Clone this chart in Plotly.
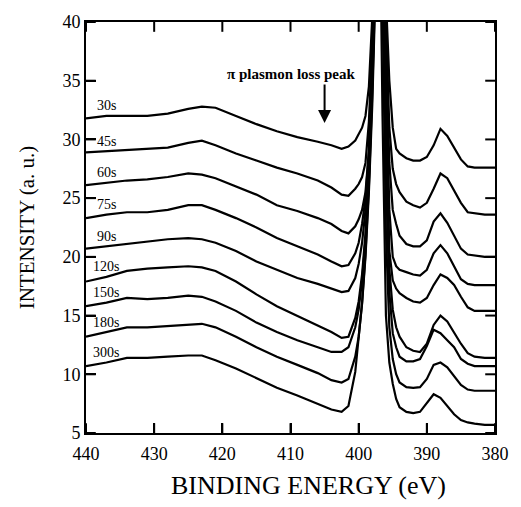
import plotly.graph_objects as go

energy = [440, 437, 434, 431, 428, 425, 423, 421, 418, 415, 412, 409, 406, 404,
          402.5, 401.5, 400.5, 400, 399.5, 399, 398.5, 398, 397.5, 397, 396.5, 396, 395.5, 395, 394.5, 394,
          393, 392, 391, 390, 389, 388, 387, 386, 385, 384, 383, 381.5, 380]

s30 = [31.8, 32.0, 32.0, 32.0, 32.2, 32.6, 32.8, 32.7, 32.0, 31.3, 30.7, 30.2, 29.8, 29.5,
       29.2, 29.4, 29.9, 30.4, 31.0, 32.0, 34.5, 40.5, 52, 62, 55, 42, 35, 31, 29.2, 28.8,
       28.4, 28.2, 28.2, 28.5, 29.5, 30.9, 30.3, 29.3, 28.3, 27.7, 27.6, 27.6, 27.6]
s45 = [28.9, 29.0, 29.1, 29.2, 29.3, 29.7, 29.9, 29.5, 28.8, 28.2, 27.6, 27.1, 26.5, 25.9,
       25.3, 25.2, 25.8, 26.2, 26.8, 28.0, 31.5, 38, 48, 60, 54, 40, 31, 27.5, 26.2, 25.5,
       24.7, 24.4, 24.2, 24.6, 25.8, 27.1, 26.7, 25.7, 24.6, 23.8, 23.7, 23.6, 23.6]
s60 = [26.1, 26.3, 26.5, 26.6, 26.8, 27.1, 27.0, 26.7, 26.0, 25.3, 24.4, 23.9, 23.3, 22.8,
       22.2, 22.0, 22.6, 23.2, 24.0, 25.5, 29, 36, 46, 58, 53, 38, 28, 24, 22.8, 21.8,
       21.1, 20.9, 20.9, 21.4, 23.0, 23.7, 22.9, 21.8, 20.7, 20.2, 20.1, 20.0, 20.0]
s75 = [23.3, 23.6, 23.8, 23.8, 24.0, 24.4, 24.4, 24.0, 23.3, 22.5, 21.6, 20.9, 20.2, 19.6,
       19.2, 19.3, 20.3, 21.2, 22.8, 25, 29, 36, 47, 58, 52, 36, 24, 20, 19.2, 18.9,
       18.7, 18.5, 18.4, 18.9, 20.3, 21.0, 20.3, 19.2, 18.1, 17.7, 17.6, 17.6, 17.6]
s90 = [20.7, 20.9, 21.1, 21.3, 21.5, 21.6, 21.5, 21.2, 20.5, 19.6, 18.9, 18.2, 17.7, 17.3,
       17.0, 17.1, 18.2, 19.4, 21.2, 24, 28, 35, 45, 56, 50, 33, 20.5, 18.0, 17.3, 16.9,
       16.5, 16.2, 16.1, 16.5, 17.6, 18.5, 18.2, 17.6, 16.6, 15.7, 15.4, 15.4, 15.4]
s120 = [17.9, 18.3, 18.8, 19.0, 19.1, 19.2, 19.1, 18.8, 17.9, 16.8, 15.8, 15.0, 14.2, 13.6,
        13.1, 13.2, 14.8, 16.2, 18.5, 22, 27, 34, 44, 55, 48, 30, 19, 15.5, 14.0, 13.2,
        12.3, 12.0, 11.9, 12.6, 14.2, 15.0, 14.5, 13.5, 12.6, 11.8, 11.5, 11.4, 11.4]
s150 = [15.8, 16.1, 16.5, 16.4, 16.5, 16.7, 16.6, 16.2, 15.4, 14.4, 13.6, 12.9, 12.3, 11.9,
        11.9, 12.3, 14.0, 15.5, 18, 21.5, 26.5, 33.5, 43.5, 54, 45, 27, 17, 13.5, 12.3, 11.5,
        11.1, 11.1, 11.3, 12.4, 13.8, 13.5, 12.9, 12.3, 11.3, 10.9, 10.7, 10.7, 10.7]
s180 = [13.2, 13.6, 14.0, 14.0, 14.1, 14.2, 14.3, 14.0, 13.2, 12.3, 11.5, 10.8, 10.1, 9.5,
        9.3, 9.6, 11.5, 13.2, 16, 20, 25.5, 33, 43, 54, 42, 22, 14, 11.3, 10.0, 9.3,
        8.9, 8.85, 8.9, 9.6, 10.8, 11.0, 10.6, 9.8, 9.1, 8.7, 8.6, 8.6, 8.6]
s300 = [10.7, 11.0, 11.4, 11.4, 11.5, 11.6, 11.6, 11.2, 10.5, 9.7, 8.85, 8.2, 7.5, 7.0,
        6.8, 7.3, 10.2, 13.5, 16.1, 20.3, 26, 34, 44, 55, 32, 15, 11, 9.2, 7.9, 7.2,
        6.8, 6.7, 6.8, 7.6, 8.3, 8.0, 7.3, 6.6, 6.1, 5.9, 5.8, 5.7, 5.7]

series = [s30, s45, s60, s75, s90, s120, s150, s180, s300]
labels = ["30s", "45s", "60s", "75s", "90s", "120s", "150s", "180s", "300s"]
label_energy = 437
arrow_energy = 405
arrow_tip = 31.4
arrow_tail = 34.8
note_text = "π plasmon loss peak"
note_pos = (410.0, 35.6)
x_title = "BINDING ENERGY (eV)"
y_title = "INTENSITY (a. u.)"

x_ticks = [440, 430, 420, 410, 400, 390, 380]
y_ticks = [5, 10, 15, 20, 25, 30, 35, 40]
x_range = [440, 380]
y_range = [5, 40]

SERIF = "Liberation Serif, Times New Roman, serif"
W, H = 521, 507
M = dict(l=86, r=17, t=14, b=74)
TICKLEN = 10

fig = go.Figure()
for name, ys in zip(labels, series):
    fig.add_trace(go.Scatter(x=energy, y=ys, mode="lines", name=name,
                             line=dict(color="black", width=2.2), showlegend=False,
                             hoverinfo="skip"))

# inward tick marks on all four sides, at the tick values (length given in pixels)
plot_w = W - M["l"] - M["r"]
plot_h = H - M["t"] - M["b"]
dy = (y_range[1] - y_range[0]) / plot_h * TICKLEN
dx = (x_range[0] - x_range[1]) / plot_w * TICKLEN
tx, ty = [], []
for t in x_ticks:
    tx += [t, t, None, t, t, None]
    ty += [y_range[0], y_range[0] + dy, None, y_range[1], y_range[1] - dy, None]
for t in y_ticks:
    tx += [x_range[0], x_range[0] - dx, None, x_range[1], x_range[1] + dx, None]
    ty += [t, t, None, t, t, None]
fig.add_trace(go.Scatter(x=tx, y=ty, mode="lines", line=dict(color="black", width=2),
                         showlegend=False, hoverinfo="skip", cliponaxis=False))

annotations = []
idx = energy.index(label_energy)
for name, ys in zip(labels, series):
    annotations.append(dict(x=label_energy, y=ys[idx], text=name, showarrow=False,
                            yshift=10, font=dict(family=SERIF, size=14, color="black")))
annotations.append(dict(x=arrow_energy, y=arrow_tip, ax=arrow_energy, ay=arrow_tail,
                        axref="x", ayref="y", xref="x", yref="y", text="",
                        showarrow=True, arrowhead=2, arrowsize=1.3, arrowwidth=2,
                        arrowcolor="black"))
annotations.append(dict(x=note_pos[0], y=note_pos[1], text="<b>" + note_text + "</b>",
                        showarrow=False, font=dict(family=SERIF, size=15, color="black")))
annotations.append(dict(x=0.543, y=0, xref="paper", yref="paper", yanchor="middle",
                        yshift=-52, text=x_title, showarrow=False,
                        font=dict(family=SERIF, size=26, color="black")))

axis_common = dict(showline=True, linewidth=2, linecolor="black", mirror=True,
                   ticks="inside", ticklen=TICKLEN, tickwidth=2, tickcolor="black",
                   showgrid=False, zeroline=False,
                   tickfont=dict(family=SERIF, size=18, color="black"))

fig.update_layout(
    width=W, height=H,
    margin=M,
    paper_bgcolor="white", plot_bgcolor="white",
    annotations=annotations,
    xaxis=dict(range=x_range, tickvals=x_ticks, ticklabelstandoff=3, **axis_common),
    yaxis=dict(range=y_range, tickvals=y_ticks,
               title=dict(text=y_title, standoff=22,
                          font=dict(family=SERIF, size=21, color="black")),
               **axis_common),
)

fig.write_html("out.html", config={"displayModeBar": False},
               post_script="document.body.style.margin='0';document.body.style.overflow='hidden';")
